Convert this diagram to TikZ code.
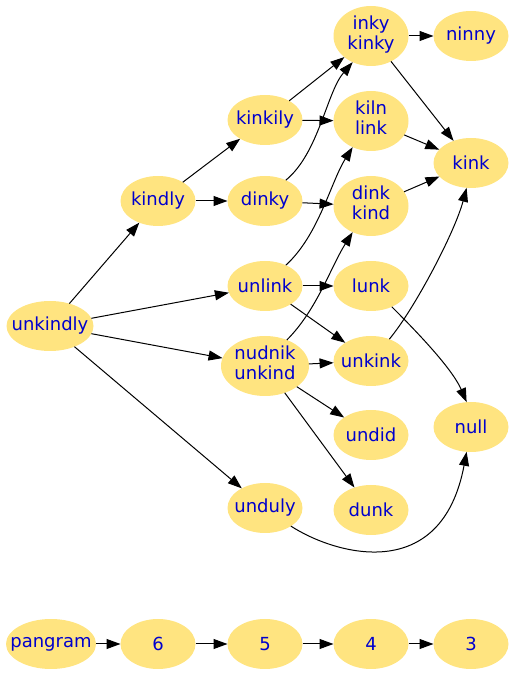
\documentclass[tikz,border=0pt]{standalone}
\usepackage{fontspec}
\setmainfont{DejaVu Sans}
\usetikzlibrary{shapes.geometric,arrows.meta}
\definecolor{nodefill}{RGB}{255,228,128}
\definecolor{nodetext}{RGB}{0,0,205}
\newcommand{\twol}[2]{\makebox[0pt]{\raisebox{-2pt}{\begin{tabular}{@{}c@{}}#1\\#2\end{tabular}}}}
\newcommand{\onel}[1]{\makebox[0pt]{\raisebox{-2pt}{#1}}}
\begin{document}
\begin{tikzpicture}[x=1pt,y=1pt,
  nd/.style={ellipse,fill=nodefill,draw=none,inner sep=0pt,outer sep=0pt,
    minimum width=75pt,minimum height=50pt,text=nodetext,
    font=\fontsize{18}{20}\selectfont},
  tall/.style={minimum height=60pt},
  edge/.style={draw=black,line width=1pt,-{Triangle[length=14pt,width=10pt]}}]
\useasboundingbox (0,0) rectangle (515,675);
% nodes
\node[nd,minimum width=87pt] (unkindly) at (50,349) {\onel{unkindly}};
\node[nd] (kindly) at (158,474) {\onel{kindly}};
\node[nd] (kinkily) at (265,555) {\onel{kinkily}};
\node[nd] (dinky) at (265,474) {\onel{dinky}};
\node[nd,tall] (inky) at (371,639) {\twol{inky}{kinky}};
\node[nd] (ninny) at (471,639) {\onel{ninny}};
\node[nd,tall] (kiln) at (371,554) {\twol{kiln}{link}};
\node[nd,tall] (dink) at (371,469) {\twol{dink}{kind}};
\node[nd] (kink) at (471,512) {\onel{kink}};
\node[nd] (unlink) at (265,389) {\onel{unlink}};
\node[nd] (lunk) at (371,389) {\onel{lunk}};
\node[nd,tall,minimum width=88pt] (nudnik) at (265,309) {\twol{nudnik}{unkind}};
\node[nd] (unkink) at (371,314) {\onel{unkink}};
\node[nd] (undid) at (371,240) {\onel{undid}};
\node[nd] (null) at (471,248) {\onel{null}};
\node[nd] (unduly) at (265,167) {\onel{unduly}};
\node[nd] (dunk) at (371,165) {\onel{dunk}};
\node[nd,minimum width=90pt] (pangram) at (51,31) {\onel{pangram}};
\node[nd] (n6) at (158,31) {\onel{6}};
\node[nd] (n5) at (265,31) {\onel{5}};
\node[nd] (n4) at (371,31) {\onel{4}};
\node[nd] (n3) at (471,31) {\onel{3}};
% straight edges
\draw[edge] (unkindly) -- (kindly);
\draw[edge] (unkindly) -- (unlink);
\draw[edge] (unkindly) -- (nudnik);
\draw[edge] (unkindly) -- (unduly);
\draw[edge] (kindly) -- (kinkily);
\draw[edge] (kindly) -- (dinky);
\draw[edge] (kinkily) -- (inky);
\draw[edge] (kinkily) -- (kiln);
\draw[edge] (dinky) -- (dink);
\draw[edge] (inky) -- (ninny);
\draw[edge] (inky) -- (kink);
\draw[edge] (kiln) -- (kink);
\draw[edge] (dink) -- (kink);
\draw[edge] (unlink) -- (lunk);
\draw[edge] (unlink) -- (unkink);
\draw[edge] (nudnik) -- (unkink);
\draw[edge] (nudnik) -- (undid);
\draw[edge] (nudnik) -- (dunk);
\draw[edge] (pangram) -- (n6);
\draw[edge] (n6) -- (n5);
\draw[edge] (n5) -- (n4);
\draw[edge] (n4) -- (n3);
% curved edges
\draw[edge] (dinky.45) .. controls +(33,27) and +(-26,-30) .. (inky.235);
\draw[edge] (unlink.45) .. controls +(33,30) and +(-22,-35) .. (kiln.235);
\draw[edge] (nudnik.50) .. controls +(30,30) and +(-22,-35) .. (dink.235);
\draw[edge] (unkink.50) .. controls +(25,30) and +(-12,-45) .. (kink.-100);
\draw[edge] (lunk.-45) .. controls +(20,-20) and +(-15,35) .. (null.100);
\draw[edge] (unduly.-35) .. controls +(45,-29) and +(-25,-133) .. (null.-100);
\end{tikzpicture}
\end{document}
